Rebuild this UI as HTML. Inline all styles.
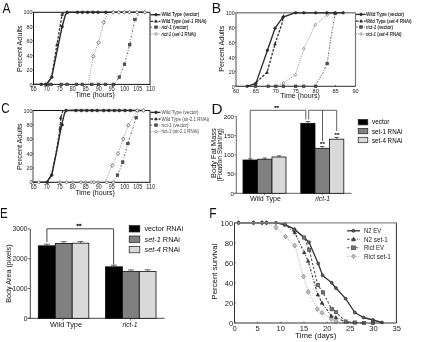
<!DOCTYPE html>
<html><head><meta charset="utf-8"><style>
html,body{margin:0;padding:0;background:#fff;overflow:hidden;width:422px;height:342px;}
svg{display:block;filter:blur(0.3px);}
text{font-family:"Liberation Sans", sans-serif;}
</style></head><body>
<svg width="422" height="342" viewBox="0 0 422 342">
<rect width="422" height="342" fill="#fff"/>
<text transform="translate(2.50 12.90) scale(0.83 1)" font-size="14.5" fill="#111">A</text>
<line x1="33.50" y1="12.30" x2="33.50" y2="84.40" stroke="#111" stroke-width="1.0"/>
<line x1="33.00" y1="12.30" x2="150.00" y2="12.30" stroke="#111" stroke-width="1.0"/>
<line x1="150.00" y1="12.30" x2="150.00" y2="84.40" stroke="#444" stroke-width="1.2"/>
<line x1="33.50" y1="84.40" x2="150.00" y2="84.40" stroke="#111" stroke-width="1.0"/>
<polyline points="88.10,84.40 93.30,56.28 98.50,42.58 103.70,22.39 108.90,12.30 145.30,12.30" fill="none" stroke="#888" stroke-width="1.0" stroke-linejoin="round" stroke-dasharray="0.9,1.3"/>
<polyline points="33.50,84.40 114.10,84.40 119.30,77.19 124.50,64.21 129.70,44.75 134.90,19.51 140.10,12.30 145.30,12.30" fill="none" stroke="#555" stroke-width="1.0" stroke-linejoin="round" stroke-dasharray="1.6,1.7,0.7,1.7"/>
<polyline points="46.50,84.40 51.70,77.19 56.90,44.75 62.10,14.46 64.70,12.30" fill="none" stroke="#333" stroke-width="1.3" stroke-linejoin="round" stroke-dasharray="2.6,1.4"/>
<polyline points="33.50,84.40 46.50,84.40 51.70,77.19 56.90,51.95 62.10,26.72 65.48,14.46 68.60,12.30 75.10,12.30 145.30,12.30" fill="none" stroke="#2a2a2a" stroke-width="1.4" stroke-linejoin="round"/>
<polygon points="93.30,54.36 94.90,56.28 93.30,58.20 91.70,56.28" fill="#fff" stroke="#555" stroke-width="0.8"/>
<polygon points="98.50,40.66 100.10,42.58 98.50,44.50 96.90,42.58" fill="#fff" stroke="#555" stroke-width="0.8"/>
<polygon points="103.70,20.47 105.30,22.39 103.70,24.31 102.10,22.39" fill="#fff" stroke="#555" stroke-width="0.8"/>
<polygon points="113.32,10.38 114.92,12.30 113.32,14.22 111.72,12.30" fill="#fff" stroke="#555" stroke-width="0.8"/>
<polygon points="118.78,10.38 120.38,12.30 118.78,14.22 117.18,12.30" fill="#fff" stroke="#555" stroke-width="0.8"/>
<polygon points="124.24,10.38 125.84,12.30 124.24,14.22 122.64,12.30" fill="#fff" stroke="#555" stroke-width="0.8"/>
<polygon points="129.44,10.38 131.04,12.30 129.44,14.22 127.84,12.30" fill="#fff" stroke="#555" stroke-width="0.8"/>
<polygon points="136.98,10.38 138.58,12.30 136.98,14.22 135.38,12.30" fill="#fff" stroke="#555" stroke-width="0.8"/>
<polygon points="144.78,10.38 146.38,12.30 144.78,14.22 143.18,12.30" fill="#fff" stroke="#555" stroke-width="0.8"/>
<rect x="45.72" y="83.10" width="2.6" height="2.6" fill="#555" stroke="#333" stroke-width="0.6"/>
<rect x="49.62" y="83.10" width="2.6" height="2.6" fill="#555" stroke="#333" stroke-width="0.6"/>
<rect x="60.02" y="83.10" width="2.6" height="2.6" fill="#555" stroke="#333" stroke-width="0.6"/>
<rect x="65.74" y="83.10" width="2.6" height="2.6" fill="#555" stroke="#333" stroke-width="0.6"/>
<rect x="75.10" y="83.10" width="2.6" height="2.6" fill="#555" stroke="#333" stroke-width="0.6"/>
<rect x="81.08" y="83.10" width="2.6" height="2.6" fill="#555" stroke="#333" stroke-width="0.6"/>
<rect x="90.44" y="83.10" width="2.6" height="2.6" fill="#555" stroke="#333" stroke-width="0.6"/>
<rect x="97.20" y="83.10" width="2.6" height="2.6" fill="#555" stroke="#333" stroke-width="0.6"/>
<rect x="104.22" y="83.10" width="2.6" height="2.6" fill="#555" stroke="#333" stroke-width="0.6"/>
<rect x="112.28" y="83.10" width="2.6" height="2.6" fill="#555" stroke="#333" stroke-width="0.6"/>
<rect x="118.00" y="75.89" width="2.6" height="2.6" fill="#555" stroke="#333" stroke-width="0.6"/>
<rect x="123.20" y="62.91" width="2.6" height="2.6" fill="#555" stroke="#333" stroke-width="0.6"/>
<rect x="128.40" y="43.45" width="2.6" height="2.6" fill="#555" stroke="#333" stroke-width="0.6"/>
<rect x="133.60" y="18.21" width="2.6" height="2.6" fill="#555" stroke="#333" stroke-width="0.6"/>
<polygon points="56.90,43.32 58.20,45.79 55.60,45.79" fill="#333" stroke="#222" stroke-width="0.6"/>
<polygon points="62.10,13.03 63.40,15.50 60.80,15.50" fill="#333" stroke="#222" stroke-width="0.6"/>
<circle cx="41.30" cy="84.40" r="1.4" fill="#333" stroke="#222" stroke-width="0.6"/>
<circle cx="45.72" cy="84.40" r="1.4" fill="#333" stroke="#222" stroke-width="0.6"/>
<circle cx="51.70" cy="77.19" r="1.4" fill="#333" stroke="#222" stroke-width="0.6"/>
<circle cx="62.10" cy="26.72" r="1.4" fill="#333" stroke="#222" stroke-width="0.6"/>
<circle cx="67.04" cy="12.30" r="1.4" fill="#333" stroke="#222" stroke-width="0.6"/>
<circle cx="77.44" cy="12.30" r="1.4" fill="#333" stroke="#222" stroke-width="0.6"/>
<circle cx="82.38" cy="12.30" r="1.4" fill="#333" stroke="#222" stroke-width="0.6"/>
<circle cx="87.58" cy="12.30" r="1.4" fill="#333" stroke="#222" stroke-width="0.6"/>
<circle cx="93.04" cy="12.30" r="1.4" fill="#333" stroke="#222" stroke-width="0.6"/>
<circle cx="97.98" cy="12.30" r="1.4" fill="#333" stroke="#222" stroke-width="0.6"/>
<circle cx="105.78" cy="12.30" r="1.4" fill="#333" stroke="#222" stroke-width="0.6"/>
<line x1="32.30" y1="84.40" x2="33.50" y2="84.40" stroke="#333" stroke-width="0.6"/>
<text x="32.50" y="86.50" font-size="5.9" text-anchor="end" fill="#222" textLength="3.0" lengthAdjust="spacingAndGlyphs">0</text>
<line x1="32.30" y1="69.98" x2="33.50" y2="69.98" stroke="#333" stroke-width="0.6"/>
<text x="32.50" y="72.08" font-size="5.9" text-anchor="end" fill="#222" textLength="6.0" lengthAdjust="spacingAndGlyphs">20</text>
<line x1="32.30" y1="55.56" x2="33.50" y2="55.56" stroke="#333" stroke-width="0.6"/>
<text x="32.50" y="57.66" font-size="5.9" text-anchor="end" fill="#222" textLength="6.0" lengthAdjust="spacingAndGlyphs">40</text>
<line x1="32.30" y1="41.14" x2="33.50" y2="41.14" stroke="#333" stroke-width="0.6"/>
<text x="32.50" y="43.24" font-size="5.9" text-anchor="end" fill="#222" textLength="6.0" lengthAdjust="spacingAndGlyphs">60</text>
<line x1="32.30" y1="26.72" x2="33.50" y2="26.72" stroke="#333" stroke-width="0.6"/>
<text x="32.50" y="28.82" font-size="5.9" text-anchor="end" fill="#222" textLength="6.0" lengthAdjust="spacingAndGlyphs">80</text>
<line x1="32.30" y1="12.30" x2="33.50" y2="12.30" stroke="#333" stroke-width="0.6"/>
<text x="32.50" y="14.40" font-size="5.9" text-anchor="end" fill="#222" textLength="9.0" lengthAdjust="spacingAndGlyphs">100</text>
<line x1="33.50" y1="84.40" x2="33.50" y2="85.60" stroke="#333" stroke-width="0.6"/>
<text x="33.70" y="90.80" font-size="6.3" text-anchor="middle" fill="#222" textLength="5.9" lengthAdjust="spacingAndGlyphs">65</text>
<line x1="46.50" y1="84.40" x2="46.50" y2="85.60" stroke="#333" stroke-width="0.6"/>
<text x="46.70" y="90.80" font-size="6.3" text-anchor="middle" fill="#222" textLength="5.9" lengthAdjust="spacingAndGlyphs">70</text>
<line x1="59.50" y1="84.40" x2="59.50" y2="85.60" stroke="#333" stroke-width="0.6"/>
<text x="59.70" y="90.80" font-size="6.3" text-anchor="middle" fill="#222" textLength="5.9" lengthAdjust="spacingAndGlyphs">75</text>
<line x1="72.50" y1="84.40" x2="72.50" y2="85.60" stroke="#333" stroke-width="0.6"/>
<text x="72.70" y="90.80" font-size="6.3" text-anchor="middle" fill="#222" textLength="5.9" lengthAdjust="spacingAndGlyphs">80</text>
<line x1="85.50" y1="84.40" x2="85.50" y2="85.60" stroke="#333" stroke-width="0.6"/>
<text x="85.70" y="90.80" font-size="6.3" text-anchor="middle" fill="#222" textLength="5.9" lengthAdjust="spacingAndGlyphs">85</text>
<line x1="98.50" y1="84.40" x2="98.50" y2="85.60" stroke="#333" stroke-width="0.6"/>
<text x="98.70" y="90.80" font-size="6.3" text-anchor="middle" fill="#222" textLength="5.9" lengthAdjust="spacingAndGlyphs">90</text>
<line x1="111.50" y1="84.40" x2="111.50" y2="85.60" stroke="#333" stroke-width="0.6"/>
<text x="111.70" y="90.80" font-size="6.3" text-anchor="middle" fill="#222" textLength="5.9" lengthAdjust="spacingAndGlyphs">95</text>
<line x1="124.50" y1="84.40" x2="124.50" y2="85.60" stroke="#333" stroke-width="0.6"/>
<text x="124.70" y="90.80" font-size="6.3" text-anchor="middle" fill="#222" textLength="8.850000000000001" lengthAdjust="spacingAndGlyphs">100</text>
<line x1="137.50" y1="84.40" x2="137.50" y2="85.60" stroke="#333" stroke-width="0.6"/>
<text x="137.70" y="90.80" font-size="6.3" text-anchor="middle" fill="#222" textLength="8.850000000000001" lengthAdjust="spacingAndGlyphs">105</text>
<line x1="150.50" y1="84.40" x2="150.50" y2="85.60" stroke="#333" stroke-width="0.6"/>
<text x="150.70" y="90.80" font-size="6.3" text-anchor="middle" fill="#222" textLength="8.850000000000001" lengthAdjust="spacingAndGlyphs">110</text>
<text x="75.20" y="97.20" font-size="6.8" text-anchor="start" fill="#111" textLength="39.6" lengthAdjust="spacingAndGlyphs">Time (hours)</text>
<text x="21.80" y="48.65" font-size="7.5" text-anchor="middle" fill="#111" textLength="46.5" lengthAdjust="spacingAndGlyphs" transform="rotate(-90 21.80 48.65)">Percent Adults</text>
<line x1="150.5" y1="14.70" x2="160.5" y2="14.70" stroke="#2a2a2a" stroke-width="1.4"/>
<circle cx="156.00" cy="14.70" r="1.3" fill="#333" stroke="#222" stroke-width="0.6"/>
<text x="161.6" y="16.40" font-size="5" fill="#222" stroke="#222" stroke-width="0.12" textLength="37.7" lengthAdjust="spacingAndGlyphs">Wild Type (vector)</text>
<line x1="150.5" y1="21.30" x2="160.5" y2="21.30" stroke="#333" stroke-width="1.3" stroke-dasharray="2.6,1.4"/>
<polygon points="156.00,19.87 157.30,22.34 154.70,22.34" fill="#333" stroke="#222" stroke-width="0.6"/>
<text x="161.6" y="23.00" font-size="5" fill="#222" stroke="#222" stroke-width="0.12" textLength="45" lengthAdjust="spacingAndGlyphs">Wild Type (<tspan font-style="italic">set-1</tspan> RNAi)</text>
<line x1="150.5" y1="27.20" x2="160.5" y2="27.20" stroke="#555" stroke-width="1.0" stroke-dasharray="1.6,1.7,0.7,1.7"/>
<rect x="154.70" y="25.90" width="2.6" height="2.6" fill="#555" stroke="#333" stroke-width="0.6"/>
<text x="161.6" y="28.90" font-size="5" fill="#222" stroke="#222" stroke-width="0.12" textLength="26.7" lengthAdjust="spacingAndGlyphs"><tspan font-style="italic">rict-1</tspan> (vector)</text>
<line x1="150.5" y1="33.90" x2="160.5" y2="33.90" stroke="#888" stroke-width="1.0" stroke-dasharray="0.9,1.3"/>
<polygon points="156.00,32.34 157.30,33.90 156.00,35.46 154.70,33.90" fill="#fff" stroke="#555" stroke-width="0.6"/>
<text x="161.6" y="35.60" font-size="5" fill="#222" stroke="#222" stroke-width="0.12" textLength="34.4" lengthAdjust="spacingAndGlyphs"><tspan font-style="italic">rict-1</tspan> (<tspan font-style="italic">set-1</tspan> RNAi)</text>
<text transform="translate(1.20 113.40) scale(0.8 1)" font-size="14.5" fill="#111">C</text>
<line x1="33.00" y1="110.50" x2="33.00" y2="182.30" stroke="#9a9a9a" stroke-width="1.8"/>
<line x1="33.00" y1="110.50" x2="150.00" y2="110.50" stroke="#111" stroke-width="1.0"/>
<line x1="150.00" y1="110.50" x2="150.00" y2="182.30" stroke="#444" stroke-width="1.2"/>
<line x1="33.50" y1="182.30" x2="150.00" y2="182.30" stroke="#111" stroke-width="1.0"/>
<polyline points="105.00,182.30 112.28,165.43 118.00,153.58 123.20,138.93 128.40,125.29 136.20,111.94 137.50,110.50 145.30,110.50" fill="none" stroke="#888" stroke-width="1.0" stroke-linejoin="round" stroke-dasharray="0.9,1.3"/>
<polyline points="33.50,182.30 112.80,182.30 117.48,175.12 122.68,162.20 127.88,143.53 136.20,117.68 138.80,110.50 145.30,110.50" fill="none" stroke="#555" stroke-width="1.0" stroke-linejoin="round" stroke-dasharray="1.6,1.7,0.7,1.7"/>
<polyline points="46.50,182.30 51.70,175.12 56.90,148.55 60.02,128.45 60.80,117.68 62.88,110.50" fill="none" stroke="#333" stroke-width="1.3" stroke-linejoin="round" stroke-dasharray="2.6,1.4"/>
<polyline points="33.50,182.30 46.50,182.30 51.70,175.12 56.90,149.99 61.58,124.86 64.70,112.65 66.78,110.50 72.50,110.28 145.30,110.50" fill="none" stroke="#2a2a2a" stroke-width="1.4" stroke-linejoin="round"/>
<polygon points="112.28,163.51 113.88,165.43 112.28,167.35 110.68,165.43" fill="#fff" stroke="#555" stroke-width="0.8"/>
<polygon points="118.00,151.66 119.60,153.58 118.00,155.50 116.40,153.58" fill="#fff" stroke="#555" stroke-width="0.8"/>
<polygon points="123.20,137.01 124.80,138.93 123.20,140.85 121.60,138.93" fill="#fff" stroke="#555" stroke-width="0.8"/>
<polygon points="128.40,123.37 130.00,125.29 128.40,127.21 126.80,125.29" fill="#fff" stroke="#555" stroke-width="0.8"/>
<polygon points="137.24,108.58 138.84,110.50 137.24,112.42 135.64,110.50" fill="#fff" stroke="#555" stroke-width="0.8"/>
<polygon points="143.48,108.58 145.08,110.50 143.48,112.42 141.88,110.50" fill="#fff" stroke="#555" stroke-width="0.8"/>
<rect x="116.18" y="173.82" width="2.6" height="2.6" fill="#555" stroke="#333" stroke-width="0.6"/>
<rect x="121.38" y="160.90" width="2.6" height="2.6" fill="#555" stroke="#333" stroke-width="0.6"/>
<rect x="126.58" y="142.23" width="2.6" height="2.6" fill="#555" stroke="#333" stroke-width="0.6"/>
<rect x="134.90" y="116.38" width="2.6" height="2.6" fill="#555" stroke="#333" stroke-width="0.6"/>
<polygon points="60.80,116.25 62.10,118.72 59.50,118.72" fill="#333" stroke="#222" stroke-width="0.6"/>
<polygon points="60.02,127.02 61.32,129.49 58.72,129.49" fill="#333" stroke="#222" stroke-width="0.6"/>
<circle cx="47.28" cy="182.30" r="1.4" fill="#333" stroke="#222" stroke-width="0.6"/>
<circle cx="51.70" cy="175.12" r="1.4" fill="#333" stroke="#222" stroke-width="0.6"/>
<circle cx="62.10" cy="124.86" r="1.4" fill="#333" stroke="#222" stroke-width="0.6"/>
<circle cx="66.00" cy="110.50" r="1.4" fill="#333" stroke="#222" stroke-width="0.6"/>
<circle cx="75.88" cy="110.50" r="1.4" fill="#333" stroke="#222" stroke-width="0.6"/>
<circle cx="81.34" cy="110.50" r="1.4" fill="#333" stroke="#222" stroke-width="0.6"/>
<circle cx="86.80" cy="110.50" r="1.4" fill="#333" stroke="#222" stroke-width="0.6"/>
<circle cx="92.00" cy="110.50" r="1.4" fill="#333" stroke="#222" stroke-width="0.6"/>
<circle cx="97.20" cy="110.50" r="1.4" fill="#333" stroke="#222" stroke-width="0.6"/>
<circle cx="103.70" cy="110.50" r="1.4" fill="#333" stroke="#222" stroke-width="0.6"/>
<circle cx="108.90" cy="110.50" r="1.4" fill="#333" stroke="#222" stroke-width="0.6"/>
<circle cx="114.36" cy="110.50" r="1.4" fill="#333" stroke="#222" stroke-width="0.6"/>
<circle cx="119.30" cy="110.50" r="1.4" fill="#333" stroke="#222" stroke-width="0.6"/>
<circle cx="125.02" cy="110.50" r="1.4" fill="#333" stroke="#222" stroke-width="0.6"/>
<circle cx="130.48" cy="110.50" r="1.4" fill="#333" stroke="#222" stroke-width="0.6"/>
<circle cx="38.70" cy="182.30" r="1.3" fill="#fff" stroke="#666" stroke-width="0.8"/>
<circle cx="60.02" cy="182.30" r="1.3" fill="#fff" stroke="#666" stroke-width="0.8"/>
<circle cx="66.52" cy="182.30" r="1.3" fill="#fff" stroke="#666" stroke-width="0.8"/>
<circle cx="72.76" cy="182.30" r="1.3" fill="#fff" stroke="#666" stroke-width="0.8"/>
<circle cx="80.82" cy="182.30" r="1.3" fill="#fff" stroke="#666" stroke-width="0.8"/>
<circle cx="85.50" cy="182.30" r="1.3" fill="#fff" stroke="#666" stroke-width="0.8"/>
<circle cx="91.22" cy="182.30" r="1.3" fill="#fff" stroke="#666" stroke-width="0.8"/>
<circle cx="94.08" cy="182.30" r="1.3" fill="#fff" stroke="#666" stroke-width="0.8"/>
<circle cx="98.24" cy="182.30" r="1.3" fill="#fff" stroke="#666" stroke-width="0.8"/>
<circle cx="106.82" cy="182.30" r="1.3" fill="#fff" stroke="#666" stroke-width="0.8"/>
<circle cx="113.32" cy="182.30" r="1.3" fill="#fff" stroke="#666" stroke-width="0.8"/>
<line x1="32.30" y1="182.30" x2="33.50" y2="182.30" stroke="#333" stroke-width="0.6"/>
<text x="32.50" y="184.40" font-size="5.9" text-anchor="end" fill="#222" textLength="3.0" lengthAdjust="spacingAndGlyphs">0</text>
<line x1="32.30" y1="167.94" x2="33.50" y2="167.94" stroke="#333" stroke-width="0.6"/>
<text x="32.50" y="170.04" font-size="5.9" text-anchor="end" fill="#222" textLength="6.0" lengthAdjust="spacingAndGlyphs">20</text>
<line x1="32.30" y1="153.58" x2="33.50" y2="153.58" stroke="#333" stroke-width="0.6"/>
<text x="32.50" y="155.68" font-size="5.9" text-anchor="end" fill="#222" textLength="6.0" lengthAdjust="spacingAndGlyphs">40</text>
<line x1="32.30" y1="139.22" x2="33.50" y2="139.22" stroke="#333" stroke-width="0.6"/>
<text x="32.50" y="141.32" font-size="5.9" text-anchor="end" fill="#222" textLength="6.0" lengthAdjust="spacingAndGlyphs">60</text>
<line x1="32.30" y1="124.86" x2="33.50" y2="124.86" stroke="#333" stroke-width="0.6"/>
<text x="32.50" y="126.96" font-size="5.9" text-anchor="end" fill="#222" textLength="6.0" lengthAdjust="spacingAndGlyphs">80</text>
<line x1="32.30" y1="110.50" x2="33.50" y2="110.50" stroke="#333" stroke-width="0.6"/>
<text x="32.50" y="112.60" font-size="5.9" text-anchor="end" fill="#222" textLength="9.0" lengthAdjust="spacingAndGlyphs">100</text>
<line x1="33.50" y1="182.30" x2="33.50" y2="183.50" stroke="#333" stroke-width="0.6"/>
<text x="33.70" y="188.70" font-size="6.3" text-anchor="middle" fill="#222" textLength="5.9" lengthAdjust="spacingAndGlyphs">65</text>
<line x1="46.50" y1="182.30" x2="46.50" y2="183.50" stroke="#333" stroke-width="0.6"/>
<text x="46.70" y="188.70" font-size="6.3" text-anchor="middle" fill="#222" textLength="5.9" lengthAdjust="spacingAndGlyphs">70</text>
<line x1="59.50" y1="182.30" x2="59.50" y2="183.50" stroke="#333" stroke-width="0.6"/>
<text x="59.70" y="188.70" font-size="6.3" text-anchor="middle" fill="#222" textLength="5.9" lengthAdjust="spacingAndGlyphs">75</text>
<line x1="72.50" y1="182.30" x2="72.50" y2="183.50" stroke="#333" stroke-width="0.6"/>
<text x="72.70" y="188.70" font-size="6.3" text-anchor="middle" fill="#222" textLength="5.9" lengthAdjust="spacingAndGlyphs">80</text>
<line x1="85.50" y1="182.30" x2="85.50" y2="183.50" stroke="#333" stroke-width="0.6"/>
<text x="85.70" y="188.70" font-size="6.3" text-anchor="middle" fill="#222" textLength="5.9" lengthAdjust="spacingAndGlyphs">85</text>
<line x1="98.50" y1="182.30" x2="98.50" y2="183.50" stroke="#333" stroke-width="0.6"/>
<text x="98.70" y="188.70" font-size="6.3" text-anchor="middle" fill="#222" textLength="5.9" lengthAdjust="spacingAndGlyphs">90</text>
<line x1="111.50" y1="182.30" x2="111.50" y2="183.50" stroke="#333" stroke-width="0.6"/>
<text x="111.70" y="188.70" font-size="6.3" text-anchor="middle" fill="#222" textLength="5.9" lengthAdjust="spacingAndGlyphs">95</text>
<line x1="124.50" y1="182.30" x2="124.50" y2="183.50" stroke="#333" stroke-width="0.6"/>
<text x="124.70" y="188.70" font-size="6.3" text-anchor="middle" fill="#222" textLength="8.850000000000001" lengthAdjust="spacingAndGlyphs">100</text>
<line x1="137.50" y1="182.30" x2="137.50" y2="183.50" stroke="#333" stroke-width="0.6"/>
<text x="137.70" y="188.70" font-size="6.3" text-anchor="middle" fill="#222" textLength="8.850000000000001" lengthAdjust="spacingAndGlyphs">105</text>
<line x1="150.50" y1="182.30" x2="150.50" y2="183.50" stroke="#333" stroke-width="0.6"/>
<text x="150.70" y="188.70" font-size="6.3" text-anchor="middle" fill="#222" textLength="8.850000000000001" lengthAdjust="spacingAndGlyphs">110</text>
<text x="75.20" y="195.10" font-size="6.8" text-anchor="start" fill="#111" textLength="39.6" lengthAdjust="spacingAndGlyphs">Time (hours)</text>
<text x="21.80" y="146.70" font-size="7.5" text-anchor="middle" fill="#111" textLength="46.5" lengthAdjust="spacingAndGlyphs" transform="rotate(-90 21.80 146.70)">Percent Adults</text>
<line x1="150.5" y1="112.40" x2="160.5" y2="112.40" stroke="#2a2a2a" stroke-width="1.4"/>
<circle cx="156.00" cy="112.40" r="1.3" fill="#333" stroke="#222" stroke-width="0.6"/>
<text x="161.6" y="114.10" font-size="5" fill="#444" stroke="#444" stroke-width="0" textLength="37" lengthAdjust="spacingAndGlyphs">Wild Type (vector)</text>
<line x1="150.5" y1="119.00" x2="160.5" y2="119.00" stroke="#333" stroke-width="1.3" stroke-dasharray="2.6,1.4"/>
<polygon points="156.00,117.57 157.30,120.04 154.70,120.04" fill="#333" stroke="#222" stroke-width="0.6"/>
<text x="161.6" y="120.70" font-size="5" fill="#444" stroke="#444" stroke-width="0" textLength="47.5" lengthAdjust="spacingAndGlyphs">Wild Type (sir-2.1 RNAi)</text>
<line x1="150.5" y1="125.10" x2="160.5" y2="125.10" stroke="#555" stroke-width="1.0" stroke-dasharray="1.6,1.7,0.7,1.7"/>
<rect x="154.70" y="123.80" width="2.6" height="2.6" fill="#555" stroke="#333" stroke-width="0.6"/>
<text x="161.6" y="126.80" font-size="5" fill="#444" stroke="#444" stroke-width="0" textLength="27" lengthAdjust="spacingAndGlyphs">rict-1 (vector)</text>
<line x1="150.5" y1="131.70" x2="160.5" y2="131.70" stroke="#888" stroke-width="1.0" stroke-dasharray="0.9,1.3"/>
<polygon points="156.00,130.14 157.30,131.70 156.00,133.26 154.70,131.70" fill="#fff" stroke="#555" stroke-width="0.6"/>
<text x="161.6" y="133.40" font-size="5" fill="#444" stroke="#444" stroke-width="0" textLength="37.4" lengthAdjust="spacingAndGlyphs">rict-1 (sir-2.1 RNAi)</text>
<text transform="translate(211.70 13.00) scale(0.965 1)" font-size="14.5" fill="#111">B</text>
<line x1="236.00" y1="12.80" x2="236.00" y2="86.30" stroke="#808080" stroke-width="1.4"/>
<line x1="236.00" y1="12.80" x2="355.50" y2="12.80" stroke="#888" stroke-width="1.5"/>
<line x1="355.50" y1="12.80" x2="355.50" y2="86.30" stroke="#777" stroke-width="1.2"/>
<line x1="236.00" y1="86.30" x2="355.50" y2="86.30" stroke="#555" stroke-width="1.2"/>
<polyline points="275.83,86.30 283.40,82.99 295.35,74.83 303.71,48.81 315.26,24.85 327.21,15.00 334.38,12.80" fill="none" stroke="#888" stroke-width="1.0" stroke-linejoin="round" stroke-dasharray="0.9,1.3"/>
<polyline points="236.00,86.30 314.86,86.30 322.83,73.07 327.21,63.52 330.00,43.67 335.18,13.53" fill="none" stroke="#555" stroke-width="1.0" stroke-linejoin="round" stroke-dasharray="1.6,1.4,0.8,1.4"/>
<polyline points="253.53,84.83 267.07,72.33 275.03,43.96 281.80,24.19 284.19,12.80" fill="none" stroke="#333" stroke-width="1.3" stroke-linejoin="round" stroke-dasharray="2.6,1.4"/>
<polyline points="247.15,86.30 255.91,83.36 267.47,50.28 275.03,28.23 283.00,17.21 294.95,12.80 343.54,12.80" fill="none" stroke="#2a2a2a" stroke-width="1.3" stroke-linejoin="round"/>
<polygon points="283.40,81.43 284.70,82.99 283.40,84.55 282.10,82.99" fill="#fff" stroke="#555" stroke-width="0.6"/>
<polygon points="295.35,73.27 296.65,74.83 295.35,76.39 294.05,74.83" fill="#fff" stroke="#555" stroke-width="0.6"/>
<polygon points="303.71,47.25 305.01,48.81 303.71,50.38 302.41,48.81" fill="#fff" stroke="#555" stroke-width="0.6"/>
<polygon points="315.26,23.29 316.56,24.85 315.26,26.41 313.96,24.85" fill="#fff" stroke="#555" stroke-width="0.6"/>
<polygon points="327.21,13.44 328.51,15.00 327.21,16.56 325.91,15.00" fill="#fff" stroke="#555" stroke-width="0.6"/>
<rect x="254.22" y="85.00" width="2.6" height="2.6" fill="#555" stroke="#333" stroke-width="0.6"/>
<rect x="266.96" y="85.00" width="2.6" height="2.6" fill="#555" stroke="#333" stroke-width="0.6"/>
<rect x="274.53" y="85.00" width="2.6" height="2.6" fill="#555" stroke="#333" stroke-width="0.6"/>
<rect x="282.10" y="85.00" width="2.6" height="2.6" fill="#555" stroke="#333" stroke-width="0.6"/>
<rect x="294.44" y="85.00" width="2.6" height="2.6" fill="#555" stroke="#333" stroke-width="0.6"/>
<rect x="302.41" y="85.00" width="2.6" height="2.6" fill="#555" stroke="#333" stroke-width="0.6"/>
<rect x="314.36" y="85.00" width="2.6" height="2.6" fill="#555" stroke="#333" stroke-width="0.6"/>
<rect x="325.91" y="62.22" width="2.6" height="2.6" fill="#555" stroke="#333" stroke-width="0.6"/>
<rect x="333.88" y="12.23" width="2.6" height="2.6" fill="#555" stroke="#333" stroke-width="0.6"/>
<polygon points="267.07,70.90 268.37,73.38 265.77,73.38" fill="#333" stroke="#222" stroke-width="0.6"/>
<polygon points="275.03,42.53 276.33,45.00 273.73,45.00" fill="#333" stroke="#222" stroke-width="0.6"/>
<circle cx="247.15" cy="86.30" r="1.3" fill="#333" stroke="#222" stroke-width="0.6"/>
<circle cx="255.91" cy="83.36" r="1.3" fill="#333" stroke="#222" stroke-width="0.6"/>
<circle cx="267.47" cy="50.28" r="1.3" fill="#333" stroke="#222" stroke-width="0.6"/>
<circle cx="275.03" cy="28.23" r="1.3" fill="#333" stroke="#222" stroke-width="0.6"/>
<circle cx="283.00" cy="17.21" r="1.3" fill="#333" stroke="#222" stroke-width="0.6"/>
<circle cx="295.75" cy="12.80" r="1.3" fill="#333" stroke="#222" stroke-width="0.6"/>
<circle cx="303.71" cy="12.80" r="1.3" fill="#333" stroke="#222" stroke-width="0.6"/>
<circle cx="315.66" cy="12.80" r="1.3" fill="#333" stroke="#222" stroke-width="0.6"/>
<circle cx="326.81" cy="12.80" r="1.3" fill="#333" stroke="#222" stroke-width="0.6"/>
<circle cx="335.18" cy="12.80" r="1.3" fill="#333" stroke="#222" stroke-width="0.6"/>
<circle cx="343.14" cy="12.80" r="1.3" fill="#333" stroke="#222" stroke-width="0.6"/>
<line x1="234.50" y1="86.30" x2="236.00" y2="86.30" stroke="#333" stroke-width="0.6"/>
<text x="234.60" y="88.90" font-size="5.5" text-anchor="end" fill="#222" textLength="2.9" lengthAdjust="spacingAndGlyphs">0</text>
<line x1="234.50" y1="71.60" x2="236.00" y2="71.60" stroke="#333" stroke-width="0.6"/>
<text x="234.60" y="74.20" font-size="5.5" text-anchor="end" fill="#222" textLength="5.8" lengthAdjust="spacingAndGlyphs">20</text>
<line x1="234.50" y1="56.90" x2="236.00" y2="56.90" stroke="#333" stroke-width="0.6"/>
<text x="234.60" y="59.50" font-size="5.5" text-anchor="end" fill="#222" textLength="5.8" lengthAdjust="spacingAndGlyphs">40</text>
<line x1="234.50" y1="42.20" x2="236.00" y2="42.20" stroke="#333" stroke-width="0.6"/>
<text x="234.60" y="44.80" font-size="5.5" text-anchor="end" fill="#222" textLength="5.8" lengthAdjust="spacingAndGlyphs">60</text>
<line x1="234.50" y1="27.50" x2="236.00" y2="27.50" stroke="#333" stroke-width="0.6"/>
<text x="234.60" y="30.10" font-size="5.5" text-anchor="end" fill="#222" textLength="5.8" lengthAdjust="spacingAndGlyphs">80</text>
<line x1="234.50" y1="12.80" x2="236.00" y2="12.80" stroke="#333" stroke-width="0.6"/>
<text x="234.60" y="15.40" font-size="5.5" text-anchor="end" fill="#222" textLength="8.7" lengthAdjust="spacingAndGlyphs">100</text>
<line x1="236.00" y1="86.30" x2="236.00" y2="84.90" stroke="#333" stroke-width="0.7"/>
<text x="236.00" y="93.00" font-size="6.2" text-anchor="middle" fill="#222" textLength="6.2" lengthAdjust="spacingAndGlyphs">60</text>
<line x1="255.91" y1="86.30" x2="255.91" y2="84.90" stroke="#333" stroke-width="0.7"/>
<text x="255.91" y="93.00" font-size="6.2" text-anchor="middle" fill="#222" textLength="6.2" lengthAdjust="spacingAndGlyphs">65</text>
<line x1="275.83" y1="86.30" x2="275.83" y2="84.90" stroke="#333" stroke-width="0.7"/>
<text x="275.83" y="93.00" font-size="6.2" text-anchor="middle" fill="#222" textLength="6.2" lengthAdjust="spacingAndGlyphs">70</text>
<line x1="295.75" y1="86.30" x2="295.75" y2="84.90" stroke="#333" stroke-width="0.7"/>
<text x="295.75" y="93.00" font-size="6.2" text-anchor="middle" fill="#222" textLength="6.2" lengthAdjust="spacingAndGlyphs">75</text>
<line x1="315.66" y1="86.30" x2="315.66" y2="84.90" stroke="#333" stroke-width="0.7"/>
<text x="315.66" y="93.00" font-size="6.2" text-anchor="middle" fill="#222" textLength="6.2" lengthAdjust="spacingAndGlyphs">80</text>
<line x1="335.57" y1="86.30" x2="335.57" y2="84.90" stroke="#333" stroke-width="0.7"/>
<text x="335.57" y="93.00" font-size="6.2" text-anchor="middle" fill="#222" textLength="6.2" lengthAdjust="spacingAndGlyphs">85</text>
<line x1="355.49" y1="86.30" x2="355.49" y2="84.90" stroke="#333" stroke-width="0.7"/>
<text x="355.49" y="93.00" font-size="6.2" text-anchor="middle" fill="#222" textLength="6.2" lengthAdjust="spacingAndGlyphs">90</text>
<text x="280.30" y="98.00" font-size="6.8" text-anchor="start" fill="#111" textLength="39.5" lengthAdjust="spacingAndGlyphs">Time (hours)</text>
<text x="224.20" y="48.75" font-size="7.5" text-anchor="middle" fill="#111" textLength="46" lengthAdjust="spacingAndGlyphs" transform="rotate(-90 224.20 48.75)">Percent Adults</text>
<line x1="356" y1="14.40" x2="365.7" y2="14.40" stroke="#2a2a2a" stroke-width="1.3"/>
<circle cx="361.00" cy="14.40" r="1.3" fill="#333" stroke="#222" stroke-width="0.6"/>
<text x="366.1" y="16.10" font-size="5" fill="#222" stroke="#222" stroke-width="0.12" textLength="38" lengthAdjust="spacingAndGlyphs">Wild Type (vector)</text>
<line x1="356" y1="21.10" x2="365.7" y2="21.10" stroke="#333" stroke-width="1.3" stroke-dasharray="2.6,1.4"/>
<polygon points="361.00,19.67 362.30,22.14 359.70,22.14" fill="#333" stroke="#222" stroke-width="0.6"/>
<text x="366.1" y="22.80" font-size="5" fill="#222" stroke="#222" stroke-width="0.12" textLength="45.5" lengthAdjust="spacingAndGlyphs">Wild Type (<tspan font-style="italic">set-4</tspan> RNAi)</text>
<line x1="356" y1="27.00" x2="365.7" y2="27.00" stroke="#555" stroke-width="1.0" stroke-dasharray="1.6,1.4,0.8,1.4"/>
<rect x="359.70" y="25.70" width="2.6" height="2.6" fill="#555" stroke="#333" stroke-width="0.6"/>
<text x="366.1" y="28.70" font-size="5" fill="#222" stroke="#222" stroke-width="0.12" textLength="27" lengthAdjust="spacingAndGlyphs"><tspan font-style="italic">rict-1</tspan> (vector)</text>
<line x1="356" y1="34.00" x2="365.7" y2="34.00" stroke="#888" stroke-width="1.0" stroke-dasharray="0.9,1.3"/>
<polygon points="361.00,32.44 362.30,34.00 361.00,35.56 359.70,34.00" fill="#fff" stroke="#555" stroke-width="0.6"/>
<text x="366.1" y="35.70" font-size="5" fill="#222" stroke="#222" stroke-width="0.12" textLength="35.5" lengthAdjust="spacingAndGlyphs"><tspan font-style="italic">rict-1</tspan> (<tspan font-style="italic">set-4</tspan> RNAi)</text>
<text transform="translate(211.60 113.70) scale(1.06 1)" font-size="14.5" fill="#111">D</text>
<line x1="236.30" y1="116.50" x2="236.30" y2="193.30" stroke="#555" stroke-width="0.9"/>
<line x1="234.30" y1="193.30" x2="351.60" y2="193.30" stroke="#555" stroke-width="0.9"/>
<line x1="234.30" y1="193.30" x2="236.30" y2="193.30" stroke="#555" stroke-width="0.7"/>
<text x="234.00" y="195.50" font-size="6.2" text-anchor="end" fill="#111" textLength="3.4" lengthAdjust="spacingAndGlyphs">0</text>
<line x1="234.30" y1="174.10" x2="236.30" y2="174.10" stroke="#555" stroke-width="0.7"/>
<text x="234.00" y="176.30" font-size="6.2" text-anchor="end" fill="#111" textLength="6.8" lengthAdjust="spacingAndGlyphs">50</text>
<line x1="234.30" y1="154.90" x2="236.30" y2="154.90" stroke="#555" stroke-width="0.7"/>
<text x="234.00" y="157.10" font-size="6.2" text-anchor="end" fill="#111" textLength="10.2" lengthAdjust="spacingAndGlyphs">100</text>
<line x1="234.30" y1="135.70" x2="236.30" y2="135.70" stroke="#555" stroke-width="0.7"/>
<text x="234.00" y="137.90" font-size="6.2" text-anchor="end" fill="#111" textLength="10.2" lengthAdjust="spacingAndGlyphs">150</text>
<line x1="234.30" y1="116.50" x2="236.30" y2="116.50" stroke="#555" stroke-width="0.7"/>
<text x="234.00" y="118.70" font-size="6.2" text-anchor="end" fill="#111" textLength="10.2" lengthAdjust="spacingAndGlyphs">200</text>
<line x1="250.30" y1="158.80" x2="250.30" y2="160.00" stroke="#222" stroke-width="0.6"/>
<line x1="248.10" y1="158.80" x2="252.50" y2="158.80" stroke="#222" stroke-width="0.7"/>
<line x1="264.80" y1="158.00" x2="264.80" y2="159.20" stroke="#222" stroke-width="0.6"/>
<line x1="262.60" y1="158.00" x2="267.00" y2="158.00" stroke="#222" stroke-width="0.7"/>
<line x1="279.00" y1="155.80" x2="279.00" y2="157.00" stroke="#222" stroke-width="0.6"/>
<line x1="276.80" y1="155.80" x2="281.20" y2="155.80" stroke="#222" stroke-width="0.7"/>
<line x1="307.90" y1="121.50" x2="307.90" y2="123.30" stroke="#222" stroke-width="0.6"/>
<line x1="305.70" y1="121.50" x2="310.10" y2="121.50" stroke="#222" stroke-width="0.7"/>
<line x1="322.25" y1="146.50" x2="322.25" y2="148.30" stroke="#222" stroke-width="0.6"/>
<line x1="320.05" y1="146.50" x2="324.45" y2="146.50" stroke="#222" stroke-width="0.7"/>
<line x1="336.65" y1="137.40" x2="336.65" y2="139.20" stroke="#222" stroke-width="0.6"/>
<line x1="334.45" y1="137.40" x2="338.85" y2="137.40" stroke="#222" stroke-width="0.7"/>
<rect x="243.00" y="160.00" width="14.60" height="33.30" fill="#000" stroke="#111" stroke-width="0.8"/>
<rect x="257.60" y="159.20" width="14.40" height="34.10" fill="#808080" stroke="#111" stroke-width="0.8"/>
<rect x="272.00" y="157.00" width="14.00" height="36.30" fill="#d9d9d9" stroke="#111" stroke-width="0.8"/>
<rect x="300.80" y="123.30" width="14.20" height="70.00" fill="#000" stroke="#111" stroke-width="0.8"/>
<rect x="315.00" y="148.30" width="14.50" height="45.00" fill="#808080" stroke="#111" stroke-width="0.8"/>
<rect x="329.50" y="139.20" width="14.30" height="54.10" fill="#d9d9d9" stroke="#111" stroke-width="0.8"/>
<line x1="264.50" y1="193.30" x2="264.50" y2="195.10" stroke="#333" stroke-width="0.7"/>
<line x1="322.30" y1="193.30" x2="322.30" y2="195.10" stroke="#333" stroke-width="0.7"/>
<text x="265.50" y="201.40" font-size="6.6" text-anchor="middle" fill="#111" textLength="31" lengthAdjust="spacingAndGlyphs">Wild Type</text>
<text x="322.50" y="201.40" font-size="6.6" text-anchor="middle" fill="#111" font-style="italic">rict-1</text>
<text x="215.90" y="153.10" font-size="6.8" text-anchor="middle" fill="#111" textLength="49.8" lengthAdjust="spacingAndGlyphs" transform="rotate(-90 215.90 153.10)">Body Fat Mass</text>
<text x="221.80" y="154.80" font-size="6.8" text-anchor="middle" fill="#111" textLength="53.2" lengthAdjust="spacingAndGlyphs" transform="rotate(-90 221.80 154.80)">(Fixation Staining)</text>
<polyline points="250.20,158.50 250.20,110.30 305.80,110.30 305.80,119.50" fill="none" stroke="#444" stroke-width="0.85" stroke-linejoin="round"/>
<polyline points="308.70,119.50 308.70,110.30 336.70,110.30 336.70,131.00" fill="none" stroke="#444" stroke-width="0.85" stroke-linejoin="round"/>
<line x1="322.50" y1="110.30" x2="322.50" y2="141.00" stroke="#444" stroke-width="0.85"/>
<text x="276.60" y="110.00" font-size="6.0" text-anchor="middle" fill="#222" stroke="#222" stroke-width="0.25">**</text>
<text x="322.50" y="146.20" font-size="6.2" text-anchor="middle" fill="#222" stroke="#222" stroke-width="0.2">**</text>
<text x="336.90" y="137.20" font-size="6.2" text-anchor="middle" fill="#222" stroke="#222" stroke-width="0.2">**</text>
<rect x="358.20" y="119.50" width="9.60" height="5.40" fill="#000" stroke="#222" stroke-width="0.7"/>
<text x="372.00" y="124.40" font-size="6.4" text-anchor="start" fill="#000" textLength="17.4" lengthAdjust="spacingAndGlyphs">vector</text>
<rect x="358.20" y="128.40" width="9.60" height="5.40" fill="#808080" stroke="#222" stroke-width="0.7"/>
<text x="372.00" y="133.60" font-size="6.4" text-anchor="start" fill="#000" textLength="30.2" lengthAdjust="spacingAndGlyphs">set-1 RNAi</text>
<rect x="358.20" y="137.30" width="9.60" height="5.40" fill="#d9d9d9" stroke="#222" stroke-width="0.7"/>
<text x="372.00" y="142.80" font-size="6.4" text-anchor="start" fill="#000" textLength="30.2" lengthAdjust="spacingAndGlyphs">set-4 RNAi</text>
<text transform="translate(-0.06 217.50) scale(0.8 1)" font-size="14.5" fill="#111">E</text>
<line x1="30.30" y1="229.05" x2="30.30" y2="318.30" stroke="#333" stroke-width="0.9"/>
<line x1="27.80" y1="318.30" x2="164.60" y2="318.30" stroke="#333" stroke-width="0.9"/>
<line x1="27.80" y1="318.30" x2="30.30" y2="318.30" stroke="#333" stroke-width="0.7"/>
<text x="27.50" y="320.60" font-size="6.7" text-anchor="end" fill="#222" textLength="3.75" lengthAdjust="spacingAndGlyphs">0</text>
<line x1="27.80" y1="288.55" x2="30.30" y2="288.55" stroke="#333" stroke-width="0.7"/>
<text x="27.50" y="290.85" font-size="6.7" text-anchor="end" fill="#222" textLength="15.0" lengthAdjust="spacingAndGlyphs">1000</text>
<line x1="27.80" y1="258.80" x2="30.30" y2="258.80" stroke="#333" stroke-width="0.7"/>
<text x="27.50" y="261.10" font-size="6.7" text-anchor="end" fill="#222" textLength="15.0" lengthAdjust="spacingAndGlyphs">2000</text>
<line x1="27.80" y1="229.05" x2="30.30" y2="229.05" stroke="#333" stroke-width="0.7"/>
<text x="27.50" y="231.35" font-size="6.7" text-anchor="end" fill="#222" textLength="15.0" lengthAdjust="spacingAndGlyphs">3000</text>
<line x1="46.80" y1="244.20" x2="46.80" y2="245.80" stroke="#222" stroke-width="0.6"/>
<line x1="43.80" y1="244.20" x2="49.80" y2="244.20" stroke="#222" stroke-width="0.7"/>
<line x1="63.75" y1="241.80" x2="63.75" y2="243.40" stroke="#222" stroke-width="0.6"/>
<line x1="60.75" y1="241.80" x2="66.75" y2="241.80" stroke="#222" stroke-width="0.7"/>
<line x1="80.50" y1="241.60" x2="80.50" y2="243.20" stroke="#222" stroke-width="0.6"/>
<line x1="77.50" y1="241.60" x2="83.50" y2="241.60" stroke="#222" stroke-width="0.7"/>
<line x1="114.00" y1="265.20" x2="114.00" y2="266.80" stroke="#222" stroke-width="0.6"/>
<line x1="111.00" y1="265.20" x2="117.00" y2="265.20" stroke="#222" stroke-width="0.7"/>
<line x1="130.95" y1="269.90" x2="130.95" y2="271.50" stroke="#222" stroke-width="0.6"/>
<line x1="127.95" y1="269.90" x2="133.95" y2="269.90" stroke="#222" stroke-width="0.7"/>
<line x1="147.65" y1="269.80" x2="147.65" y2="271.40" stroke="#222" stroke-width="0.6"/>
<line x1="144.65" y1="269.80" x2="150.65" y2="269.80" stroke="#222" stroke-width="0.7"/>
<rect x="38.30" y="245.80" width="17.00" height="72.50" fill="#000" stroke="#111" stroke-width="0.8"/>
<rect x="55.30" y="243.40" width="16.90" height="74.90" fill="#808080" stroke="#111" stroke-width="0.8"/>
<rect x="72.20" y="243.20" width="16.60" height="75.10" fill="#d9d9d9" stroke="#111" stroke-width="0.8"/>
<rect x="105.40" y="266.80" width="17.20" height="51.50" fill="#000" stroke="#111" stroke-width="0.8"/>
<rect x="122.60" y="271.50" width="16.70" height="46.80" fill="#808080" stroke="#111" stroke-width="0.8"/>
<rect x="139.30" y="271.40" width="16.70" height="46.90" fill="#d9d9d9" stroke="#111" stroke-width="0.8"/>
<line x1="63.30" y1="318.30" x2="63.30" y2="320.50" stroke="#333" stroke-width="0.7"/>
<line x1="130.70" y1="318.30" x2="130.70" y2="320.50" stroke="#333" stroke-width="0.7"/>
<text x="66.00" y="327.00" font-size="6.8" text-anchor="middle" fill="#111" textLength="32" lengthAdjust="spacingAndGlyphs">Wild Type</text>
<text x="130.00" y="327.00" font-size="6.8" text-anchor="middle" fill="#111" font-style="italic">rict-1</text>
<text x="10.60" y="273.60" font-size="7.2" text-anchor="middle" fill="#111" textLength="58.4" lengthAdjust="spacingAndGlyphs" transform="rotate(-90 10.60 273.60)">Body Area (pixels)</text>
<polyline points="46.90,242.20 46.90,228.80 113.60,228.80 113.60,264.60" fill="none" stroke="#444" stroke-width="1.0" stroke-linejoin="round"/>
<text x="78.90" y="227.70" font-size="6.2" text-anchor="middle" fill="#222" stroke="#222" stroke-width="0.35">**</text>
<rect x="129.20" y="225.60" width="10.60" height="6.40" fill="#000" stroke="#222" stroke-width="0.7"/>
<text x="144.50" y="231.40" font-size="7.0" text-anchor="start" fill="#111" textLength="38.5" lengthAdjust="spacingAndGlyphs">vector RNAi</text>
<rect x="129.20" y="236.00" width="10.60" height="6.40" fill="#808080" stroke="#222" stroke-width="0.7"/>
<text x="144.50" y="241.80" font-size="7.0" text-anchor="start" fill="#111" textLength="35.5" lengthAdjust="spacingAndGlyphs"><tspan font-style="italic">set-1</tspan> RNAi</text>
<rect x="129.20" y="246.40" width="10.60" height="6.40" fill="#d9d9d9" stroke="#222" stroke-width="0.7"/>
<text x="144.50" y="252.20" font-size="7.0" text-anchor="start" fill="#111" textLength="35.5" lengthAdjust="spacingAndGlyphs"><tspan font-style="italic">set-4</tspan> RNAi</text>
<text transform="translate(209.35 217.50) scale(0.83 1)" font-size="14.5" fill="#111">F</text>
<polyline points="238.50,222.80 266.50,222.80 276.00,227.50 285.50,236.70 294.70,245.50 303.50,276.40 308.30,292.00 317.30,309.20 322.00,312.80 331.30,319.00 336.00,321.20 345.50,322.60 355.00,323.00" fill="none" stroke="#aaa" stroke-width="1.0" stroke-linejoin="round" stroke-dasharray="0.9,1.3"/>
<polyline points="238.50,222.80 276.00,222.80 285.00,224.50 294.70,230.00 304.20,237.50 309.20,249.70 317.80,285.10 323.00,292.40 331.70,309.20 335.90,312.10 345.60,321.50 355.00,322.50 364.00,323.00" fill="none" stroke="#555" stroke-width="1.1" stroke-linejoin="round" stroke-dasharray="2.4,1.8"/>
<polyline points="238.50,222.80 276.00,222.80 285.00,224.50 294.70,232.50 304.20,252.50 308.10,261.00 317.80,294.70 322.00,302.90 331.30,316.00 335.90,317.50 345.50,322.00 355.00,323.00" fill="none" stroke="#333" stroke-width="1.1" stroke-linejoin="round" stroke-dasharray="2.4,1.5,0.8,1.5"/>
<polyline points="238.50,222.80 276.00,222.80 285.00,224.50 294.50,229.20 304.00,237.50 309.00,242.30 318.20,263.50 322.60,275.40 331.70,282.80 335.90,288.00 345.60,298.60 354.80,312.50 363.50,317.50 373.00,320.00 382.00,322.50" fill="none" stroke="#333" stroke-width="1.3" stroke-linejoin="round"/>
<polygon points="238.50,220.40 240.50,222.80 238.50,225.20 236.50,222.80" fill="#c4c4c4" stroke="#7a7a7a" stroke-width="0.7"/>
<polygon points="253.50,220.40 255.50,222.80 253.50,225.20 251.50,222.80" fill="#c4c4c4" stroke="#7a7a7a" stroke-width="0.7"/>
<polygon points="262.00,220.40 264.00,222.80 262.00,225.20 260.00,222.80" fill="#c4c4c4" stroke="#7a7a7a" stroke-width="0.7"/>
<polygon points="266.50,220.40 268.50,222.80 266.50,225.20 264.50,222.80" fill="#c4c4c4" stroke="#7a7a7a" stroke-width="0.7"/>
<polygon points="276.00,225.10 278.00,227.50 276.00,229.90 274.00,227.50" fill="#c4c4c4" stroke="#7a7a7a" stroke-width="0.7"/>
<polygon points="285.50,234.30 287.50,236.70 285.50,239.10 283.50,236.70" fill="#c4c4c4" stroke="#7a7a7a" stroke-width="0.7"/>
<polygon points="294.70,243.10 296.70,245.50 294.70,247.90 292.70,245.50" fill="#c4c4c4" stroke="#7a7a7a" stroke-width="0.7"/>
<polygon points="303.50,274.00 305.50,276.40 303.50,278.80 301.50,276.40" fill="#c4c4c4" stroke="#7a7a7a" stroke-width="0.7"/>
<polygon points="308.30,289.60 310.30,292.00 308.30,294.40 306.30,292.00" fill="#c4c4c4" stroke="#7a7a7a" stroke-width="0.7"/>
<polygon points="317.30,306.80 319.30,309.20 317.30,311.60 315.30,309.20" fill="#c4c4c4" stroke="#7a7a7a" stroke-width="0.7"/>
<polygon points="322.00,310.40 324.00,312.80 322.00,315.20 320.00,312.80" fill="#c4c4c4" stroke="#7a7a7a" stroke-width="0.7"/>
<polygon points="331.30,316.60 333.30,319.00 331.30,321.40 329.30,319.00" fill="#c4c4c4" stroke="#7a7a7a" stroke-width="0.7"/>
<polygon points="336.00,318.80 338.00,321.20 336.00,323.60 334.00,321.20" fill="#c4c4c4" stroke="#7a7a7a" stroke-width="0.7"/>
<rect x="283.40" y="222.90" width="3.2" height="3.2" fill="#777" stroke="#444" stroke-width="0.7"/>
<rect x="302.60" y="235.90" width="3.2" height="3.2" fill="#777" stroke="#444" stroke-width="0.7"/>
<rect x="307.60" y="248.10" width="3.2" height="3.2" fill="#777" stroke="#444" stroke-width="0.7"/>
<rect x="316.20" y="283.50" width="3.2" height="3.2" fill="#777" stroke="#444" stroke-width="0.7"/>
<rect x="321.40" y="290.80" width="3.2" height="3.2" fill="#777" stroke="#444" stroke-width="0.7"/>
<rect x="330.10" y="307.60" width="3.2" height="3.2" fill="#777" stroke="#444" stroke-width="0.7"/>
<rect x="334.30" y="310.50" width="3.2" height="3.2" fill="#777" stroke="#444" stroke-width="0.7"/>
<rect x="344.00" y="319.90" width="3.2" height="3.2" fill="#777" stroke="#444" stroke-width="0.7"/>
<rect x="353.40" y="320.90" width="3.2" height="3.2" fill="#777" stroke="#444" stroke-width="0.7"/>
<rect x="362.40" y="321.40" width="3.2" height="3.2" fill="#777" stroke="#444" stroke-width="0.7"/>
<rect x="371.40" y="321.40" width="3.2" height="3.2" fill="#777" stroke="#444" stroke-width="0.7"/>
<polygon points="294.70,230.74 296.30,233.78 293.10,233.78" fill="#444" stroke="#222" stroke-width="0.7"/>
<polygon points="304.20,250.74 305.80,253.78 302.60,253.78" fill="#444" stroke="#222" stroke-width="0.7"/>
<polygon points="308.10,259.24 309.70,262.28 306.50,262.28" fill="#444" stroke="#222" stroke-width="0.7"/>
<polygon points="317.80,292.94 319.40,295.98 316.20,295.98" fill="#444" stroke="#222" stroke-width="0.7"/>
<polygon points="322.00,301.14 323.60,304.18 320.40,304.18" fill="#444" stroke="#222" stroke-width="0.7"/>
<polygon points="331.30,314.24 332.90,317.28 329.70,317.28" fill="#444" stroke="#222" stroke-width="0.7"/>
<polygon points="335.90,315.74 337.50,318.78 334.30,318.78" fill="#444" stroke="#222" stroke-width="0.7"/>
<circle cx="238.50" cy="222.80" r="1.45" fill="#666" stroke="#222" stroke-width="0.7"/>
<circle cx="253.50" cy="222.80" r="1.45" fill="#666" stroke="#222" stroke-width="0.7"/>
<circle cx="262.00" cy="222.80" r="1.45" fill="#666" stroke="#222" stroke-width="0.7"/>
<circle cx="266.50" cy="222.80" r="1.45" fill="#666" stroke="#222" stroke-width="0.7"/>
<circle cx="276.00" cy="222.80" r="1.45" fill="#666" stroke="#222" stroke-width="0.7"/>
<circle cx="285.00" cy="224.50" r="1.45" fill="#666" stroke="#222" stroke-width="0.7"/>
<circle cx="294.50" cy="229.20" r="1.45" fill="#666" stroke="#222" stroke-width="0.7"/>
<circle cx="309.00" cy="242.30" r="1.45" fill="#666" stroke="#222" stroke-width="0.7"/>
<circle cx="318.20" cy="263.50" r="1.45" fill="#666" stroke="#222" stroke-width="0.7"/>
<circle cx="322.60" cy="275.40" r="1.45" fill="#666" stroke="#222" stroke-width="0.7"/>
<circle cx="331.70" cy="282.80" r="1.45" fill="#666" stroke="#222" stroke-width="0.7"/>
<circle cx="335.90" cy="288.00" r="1.45" fill="#666" stroke="#222" stroke-width="0.7"/>
<circle cx="345.60" cy="298.60" r="1.45" fill="#666" stroke="#222" stroke-width="0.7"/>
<circle cx="354.80" cy="312.50" r="1.45" fill="#666" stroke="#222" stroke-width="0.7"/>
<circle cx="363.50" cy="317.50" r="1.45" fill="#666" stroke="#222" stroke-width="0.7"/>
<circle cx="373.00" cy="320.00" r="1.45" fill="#666" stroke="#222" stroke-width="0.7"/>
<circle cx="382.00" cy="322.50" r="1.45" fill="#666" stroke="#222" stroke-width="0.7"/>
<line x1="234.50" y1="222.80" x2="234.50" y2="323.00" stroke="#333" stroke-width="1.0"/>
<line x1="234.50" y1="222.80" x2="396.40" y2="222.80" stroke="#888" stroke-width="1.2"/>
<line x1="396.40" y1="222.80" x2="396.40" y2="323.00" stroke="#333" stroke-width="1.0"/>
<line x1="234.50" y1="323.00" x2="396.40" y2="323.00" stroke="#333" stroke-width="1.0"/>
<line x1="234.50" y1="323.00" x2="236.00" y2="323.00" stroke="#333" stroke-width="0.6"/>
<text x="233.20" y="325.80" font-size="7.6" text-anchor="end" fill="#222">0</text>
<line x1="234.50" y1="302.96" x2="236.00" y2="302.96" stroke="#333" stroke-width="0.6"/>
<text x="233.20" y="305.76" font-size="7.6" text-anchor="end" fill="#222">20</text>
<line x1="234.50" y1="282.92" x2="236.00" y2="282.92" stroke="#333" stroke-width="0.6"/>
<text x="233.20" y="285.72" font-size="7.6" text-anchor="end" fill="#222">40</text>
<line x1="234.50" y1="262.88" x2="236.00" y2="262.88" stroke="#333" stroke-width="0.6"/>
<text x="233.20" y="265.68" font-size="7.6" text-anchor="end" fill="#222">60</text>
<line x1="234.50" y1="242.84" x2="236.00" y2="242.84" stroke="#333" stroke-width="0.6"/>
<text x="233.20" y="245.64" font-size="7.6" text-anchor="end" fill="#222">80</text>
<line x1="234.50" y1="222.80" x2="236.00" y2="222.80" stroke="#333" stroke-width="0.6"/>
<text x="233.20" y="225.60" font-size="7.6" text-anchor="end" fill="#222">100</text>
<line x1="234.50" y1="323.00" x2="234.50" y2="321.50" stroke="#333" stroke-width="0.6"/>
<text x="234.50" y="331.20" font-size="7.6" text-anchor="middle" fill="#222">0</text>
<line x1="257.67" y1="323.00" x2="257.67" y2="321.50" stroke="#333" stroke-width="0.6"/>
<text x="257.67" y="331.20" font-size="7.6" text-anchor="middle" fill="#222">5</text>
<line x1="280.84" y1="323.00" x2="280.84" y2="321.50" stroke="#333" stroke-width="0.6"/>
<text x="280.84" y="331.20" font-size="7.6" text-anchor="middle" fill="#222">10</text>
<line x1="304.01" y1="323.00" x2="304.01" y2="321.50" stroke="#333" stroke-width="0.6"/>
<text x="304.01" y="331.20" font-size="7.6" text-anchor="middle" fill="#222">15</text>
<line x1="327.18" y1="323.00" x2="327.18" y2="321.50" stroke="#333" stroke-width="0.6"/>
<text x="327.18" y="331.20" font-size="7.6" text-anchor="middle" fill="#222">20</text>
<line x1="350.35" y1="323.00" x2="350.35" y2="321.50" stroke="#333" stroke-width="0.6"/>
<text x="350.35" y="331.20" font-size="7.6" text-anchor="middle" fill="#222">25</text>
<line x1="373.52" y1="323.00" x2="373.52" y2="321.50" stroke="#333" stroke-width="0.6"/>
<text x="373.52" y="331.20" font-size="7.6" text-anchor="middle" fill="#222">30</text>
<line x1="396.69" y1="323.00" x2="396.69" y2="321.50" stroke="#333" stroke-width="0.6"/>
<text x="396.69" y="331.20" font-size="7.6" text-anchor="middle" fill="#222">35</text>
<text x="295.30" y="338.40" font-size="7.4" text-anchor="start" fill="#111" textLength="41" lengthAdjust="spacingAndGlyphs">Time (days)</text>
<text x="217.00" y="271.60" font-size="7.6" text-anchor="middle" fill="#111" textLength="56" lengthAdjust="spacingAndGlyphs" transform="rotate(-90 217.00 271.60)">Percent survival</text>
<line x1="347.1" y1="230.80" x2="360" y2="230.80" stroke="#333" stroke-width="1.3"/>
<circle cx="353.50" cy="230.80" r="1.5" fill="#666" stroke="#222" stroke-width="0.7"/>
<text x="364.00" y="233.00" font-size="6.4" text-anchor="start" fill="#222" textLength="17.3" lengthAdjust="spacingAndGlyphs">N2 EV</text>
<line x1="347.1" y1="239.30" x2="360" y2="239.30" stroke="#333" stroke-width="1.1" stroke-dasharray="2.4,1.5,0.8,1.5"/>
<polygon points="353.50,237.21 355.40,240.82 351.60,240.82" fill="#444" stroke="#222" stroke-width="0.7"/>
<text x="364.00" y="241.50" font-size="6.4" text-anchor="start" fill="#222" textLength="23.7" lengthAdjust="spacingAndGlyphs">N2 set-1</text>
<line x1="347.1" y1="247.80" x2="360" y2="247.80" stroke="#555" stroke-width="1.1" stroke-dasharray="2.4,1.8"/>
<rect x="351.60" y="245.90" width="3.8" height="3.8" fill="#777" stroke="#444" stroke-width="0.7"/>
<text x="364.00" y="250.00" font-size="6.4" text-anchor="start" fill="#222" textLength="20.1" lengthAdjust="spacingAndGlyphs">Rict EV</text>
<line x1="347.1" y1="256.30" x2="360" y2="256.30" stroke="#aaa" stroke-width="1.0" stroke-dasharray="0.9,1.3"/>
<polygon points="353.50,254.02 355.40,256.30 353.50,258.58 351.60,256.30" fill="#c4c4c4" stroke="#7a7a7a" stroke-width="0.7"/>
<text x="364.00" y="258.50" font-size="6.4" text-anchor="start" fill="#222" textLength="26.9" lengthAdjust="spacingAndGlyphs">Rict set-1</text>
</svg></body></html>
